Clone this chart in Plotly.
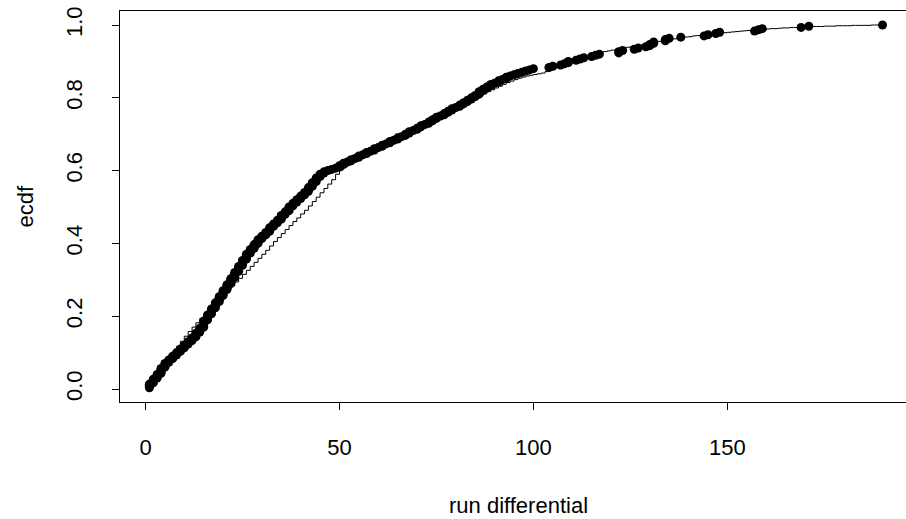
import plotly.graph_objects as go

# Observed run differentials (value, number of occurrences)
diff_values = list(range(1, 101)) + [104, 105, 107, 108, 109, 111, 112, 113, 115, 116, 117,
                                     122, 123, 126, 127, 129, 130, 131, 134, 135, 138, 144,
                                     145, 147, 148, 157, 158, 159, 169, 171, 190]
diff_counts = [4, 4, 4, 5, 4, 3, 3, 3, 3, 3,
               3, 3, 4, 4, 6, 5, 5, 5, 5, 5,
               5, 5, 5, 5, 5, 5, 4, 4, 4, 3,
               3, 4, 3, 3, 4, 3, 4, 3, 3, 3,
               3, 4, 4, 4, 3, 2, 1, 1, 1, 2,
               2, 1, 2, 1, 2, 1, 2, 1, 2, 1,
               2, 1, 2, 1, 2, 1, 2, 2, 1, 2,
               2, 1, 2, 2, 2, 1, 2, 2, 2, 1,
               2, 2, 2, 2, 2, 3, 2, 2, 2, 1,
               2, 1, 2, 1, 1, 1, 1, 1, 1, 1,
               1, 1, 1, 1, 2, 1, 1, 1, 1, 1, 1,
               2, 1, 1, 1, 1, 2, 2, 2, 1, 1, 1,
               1, 1, 1, 1, 1, 1, 1, 1, 1]

# Reference (model) cdf evaluated at integer run differentials 1..190
model_x = list(range(1, 191))
model_cdf = [
    0.020, 0.033, 0.046, 0.059, 0.072, 0.087, 0.102, 0.117, 0.131, 0.145,
    0.158, 0.170, 0.182, 0.194, 0.206, 0.218, 0.229, 0.240, 0.251, 0.262,
    0.273, 0.284, 0.294, 0.304, 0.315, 0.326, 0.337, 0.348, 0.359, 0.370,
    0.381, 0.393, 0.405, 0.416, 0.427, 0.438, 0.449, 0.460, 0.470, 0.481,
    0.491, 0.503, 0.515, 0.527, 0.539, 0.551, 0.563, 0.575, 0.590, 0.602,
    0.610, 0.617, 0.624, 0.630, 0.636, 0.642, 0.648, 0.653, 0.658, 0.663,
    0.668, 0.673, 0.678, 0.683, 0.688, 0.693, 0.698, 0.703, 0.708, 0.713,
    0.718, 0.724, 0.730, 0.736, 0.742, 0.748, 0.753, 0.758, 0.764, 0.769,
    0.775, 0.781, 0.787, 0.793, 0.799, 0.805, 0.811, 0.817, 0.822, 0.827,
    0.832, 0.837, 0.842, 0.846, 0.850, 0.854, 0.857, 0.860, 0.862, 0.864,
    0.866, 0.868, 0.872, 0.877, 0.882, 0.887, 0.891, 0.895, 0.899, 0.903,
    0.906, 0.909, 0.912, 0.915, 0.918, 0.921, 0.924, 0.927, 0.929, 0.931,
    0.933, 0.935, 0.937, 0.939, 0.941, 0.943, 0.945, 0.947, 0.949, 0.951,
    0.953, 0.955, 0.957, 0.959, 0.961, 0.962, 0.964, 0.965, 0.967, 0.968,
    0.970, 0.971, 0.972, 0.973, 0.975, 0.976, 0.977, 0.978, 0.979, 0.980,
    0.981, 0.982, 0.983, 0.984, 0.985, 0.986, 0.987, 0.987, 0.988, 0.989,
    0.990, 0.990, 0.991, 0.992, 0.992, 0.993, 0.993, 0.994, 0.994, 0.995,
    0.995, 0.996, 0.996, 0.996, 0.997, 0.997, 0.997, 0.998, 0.998, 0.998,
    0.998, 0.999, 0.999, 0.999, 0.999, 0.999, 1.000, 1.000, 1.000, 1.000,
]

x_ticks = [0, 50, 100, 150]
y_ticks = [0.0, 0.2, 0.4, 0.6, 0.8, 1.0]
x_title = "run differential"
y_title = "ecdf"

# empirical cdf of the observations
obs = []
for v, c in zip(diff_values, diff_counts):
    obs.extend([v] * c)
n = len(obs)
ecdf_y = [(i + 1) / n for i in range(n)]

FONT = "Liberation Sans, Arial, Helvetica, sans-serif"

fig = go.Figure()
fig.add_trace(go.Scatter(x=model_x, y=model_cdf, mode="lines",
                         line=dict(color="black", width=1, shape="hv"),
                         hoverinfo="skip", showlegend=False))
fig.add_trace(go.Scatter(x=obs, y=ecdf_y, mode="markers",
                         marker=dict(color="black", size=9, line=dict(width=0)),
                         showlegend=False))

fig.update_layout(
    width=906, height=519,
    margin=dict(l=120, r=0, t=11, b=117, autoexpand=False),
    paper_bgcolor="white", plot_bgcolor="white",
    font=dict(family=FONT, size=22, color="black"),
    xaxis=dict(range=[-6.574, 196.05], tickvals=x_ticks, ticktext=[str(t) for t in x_ticks],
               showgrid=False, zeroline=False, showline=True, linecolor="black",
               linewidth=1, mirror=True, ticks="outside", ticklen=7, tickcolor="black",
               ticklabelstandoff=19, tickfont=dict(size=22), automargin=False),
    yaxis=dict(range=[-0.0357, 1.0385], tickvals=y_ticks,
               ticktext=["%.1f" % t for t in y_ticks],
               showgrid=False, zeroline=False, showline=True, linecolor="black",
               linewidth=1, ticks="outside", ticklen=7, tickcolor="black",
               tickangle=-90, ticklabelstandoff=21, tickfont=dict(size=22),
               automargin=False),
    annotations=[
        dict(text=x_title, xref="paper", yref="paper", x=0.5064, y=0,
             xanchor="center", yanchor="middle", yshift=-103, showarrow=False,
             font=dict(size=22)),
        dict(text=y_title, xref="paper", yref="paper", x=0, y=0.5,
             xanchor="center", yanchor="middle", xshift=-95, textangle=-90,
             showarrow=False, font=dict(size=22)),
    ],
)

fig.write_html("out.html", config={"displayModeBar": False},
               post_script="document.body.style.margin='0';document.body.style.overflow='hidden';")
